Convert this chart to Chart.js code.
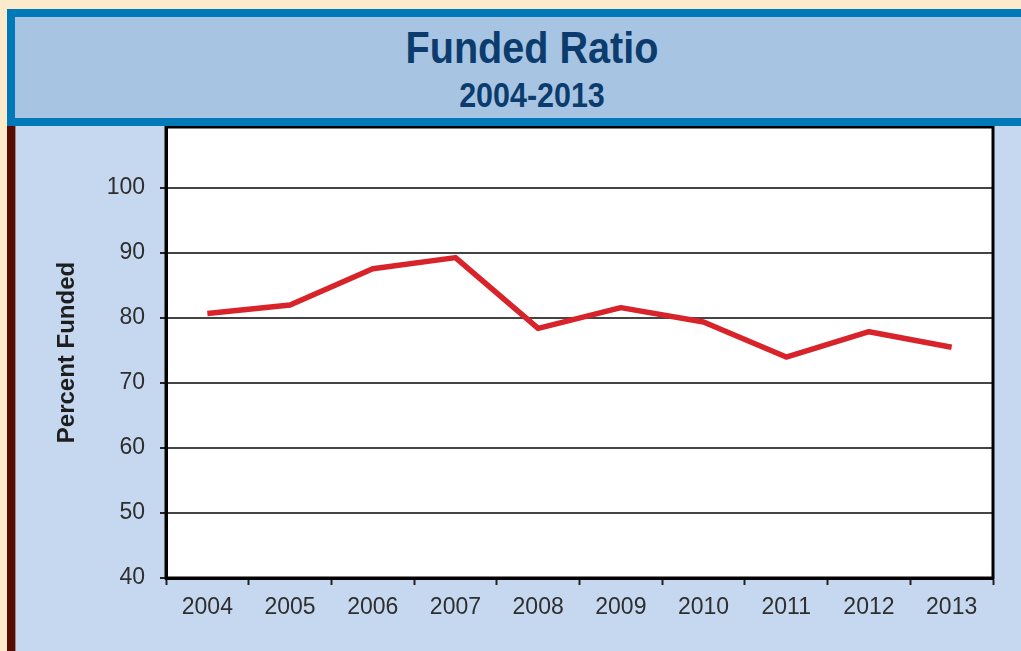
<!DOCTYPE html>
<html>
<head>
<meta charset="utf-8">
<title>Funded Ratio</title>
<script src="https://cdn.jsdelivr.net/npm/chart.js@4/dist/chart.umd.min.js"></script>
<style>
	html, body { margin: 0; padding: 0; }
	body {
		width: 1021px;
		height: 651px;
		overflow: hidden;
		position: relative;
		background: #fbeacb;
		font-family: "Liberation Sans", Arial, sans-serif;
	}
	/* 상단 제목 배너 */
	#banner {
		position: absolute;
		left: 7px;
		top: 9px;
		width: 1100px;
		height: 117px;
		box-sizing: border-box;
		border: 8px solid #0079b9;
		border-right: none;
		background: #a7c5e2;
	}
	.title-line {
		position: absolute;
		left: 232px;
		width: 600px;
		text-align: center;
		font-weight: bold;
		color: #0c3c6e;
		white-space: nowrap;
	}
	#title-main { top: 26px; font-size: 44px; line-height: 44px; transform: scaleX(0.9); }
	#title-sub { top: 77px; font-size: 35px; line-height: 35px; transform: scaleX(0.87); }
	/* 왼쪽 갈색 띠 + 차트 패널 */
	#side-bar {
		position: absolute;
		left: 7px;
		top: 126px;
		width: 8px;
		height: 525px;
		background: #5b0a00;
	}
	#panel {
		position: absolute;
		left: 15px;
		top: 126px;
		width: 1006px;
		height: 525px;
		background: #c6d8ef;
		box-shadow: inset 1px 0 0 #8a8f99;
	}
	#panel canvas { display: block; }
</style>
</head>
<body>
	<div id="banner"></div>
	<div class="title-line" id="title-main">Funded Ratio</div>
	<div class="title-line" id="title-sub">2004-2013</div>
	<div id="side-bar"></div>
	<div id="panel"><canvas id="fundedChart" width="1006" height="525"></canvas></div>

<script>
// 연도별 적립 비율 (%)
const years = ['2004', '2005', '2006', '2007', '2008', '2009', '2010', '2011', '2012', '2013'];
const fundedPct = [80.7, 82.0, 87.6, 89.3, 78.4, 81.6, 79.4, 74.0, 77.9, 75.5];
const yTicks = [40, 50, 60, 70, 80, 90, 100];
const yMin = 40;
const yMax = 109.4;

// 플롯 영역 흰 배경 + 검은 테두리
const plotFrame = {
	id: 'plotFrame',
	beforeDraw(chart) {
		const { ctx, chartArea: a } = chart;
		ctx.save();
		ctx.fillStyle = '#ffffff';
		ctx.fillRect(a.left, a.top, a.right - a.left, a.bottom - a.top);
		ctx.restore();
	},
	afterDraw(chart) {
		const { ctx, chartArea: a } = chart;
		ctx.save();
		ctx.strokeStyle = '#000000';
		ctx.lineWidth = 3;
		ctx.strokeRect(a.left, a.top, a.right - a.left, a.bottom - a.top);
		ctx.restore();
	}
};

const tickFont = { family: '"Liberation Sans", Arial, sans-serif', size: 23 };

new Chart(document.getElementById('fundedChart'), {
	type: 'line',
	data: {
		labels: years,
		datasets: [{
			label: 'Percent Funded',
			data: fundedPct,
			borderColor: '#d8232a',
			borderWidth: 5.5,
			borderJoinStyle: 'round',
			borderCapStyle: 'butt',
			pointRadius: 0,
			tension: 0,
			fill: false
		}]
	},
	options: {
		responsive: false,
		animation: false,
		layout: { padding: { left: 0, top: 1, right: 28, bottom: 0 } },
		plugins: {
			legend: { display: false },
			tooltip: { enabled: false }
		},
		scales: {
			x: {
				type: 'category',
				offset: true,
				grid: {
					offset: true,
					drawOnChartArea: false,
					drawTicks: true,
					tickLength: 7,
					tickColor: '#222222',
					tickWidth: 2
				},
				border: { display: true, color: '#000000', width: 3 },
				ticks: { color: '#2e2e2e', font: tickFont, padding: 9, maxRotation: 0, autoSkip: false },
				afterFit(scale) {
					scale.height = 73;
					scale.paddingLeft = 0;
					scale.paddingRight = 0;
				}
			},
			y: {
				min: yMin,
				max: yMax,
				afterBuildTicks(scale) {
					scale.ticks = yTicks.map(v => ({ value: v }));
				},
				grid: {
					color: '#444444',
					lineWidth: 2,
					drawTicks: true,
					tickLength: 6,
					tickColor: '#222222',
					tickWidth: 2
				},
				border: { display: true, color: '#000000', width: 3 },
				ticks: { color: '#2e2e2e', font: tickFont, padding: 15 },
				title: {
					display: true,
					text: 'Percent Funded',
					color: '#1e1e1e',
					font: { family: '"Liberation Sans", Arial, sans-serif', size: 24, weight: 'bold' },
					padding: { top: 38, bottom: 0 }
				},
				afterFit(scale) {
					// 위쪽 여백은 눈금 라벨과 무관하게 고정
					scale.width = 151;
					scale.paddingTop = 0;
					scale.paddingBottom = 0;
				}
			}
		}
	},
	plugins: [plotFrame]
});
</script>
</body>
</html>
